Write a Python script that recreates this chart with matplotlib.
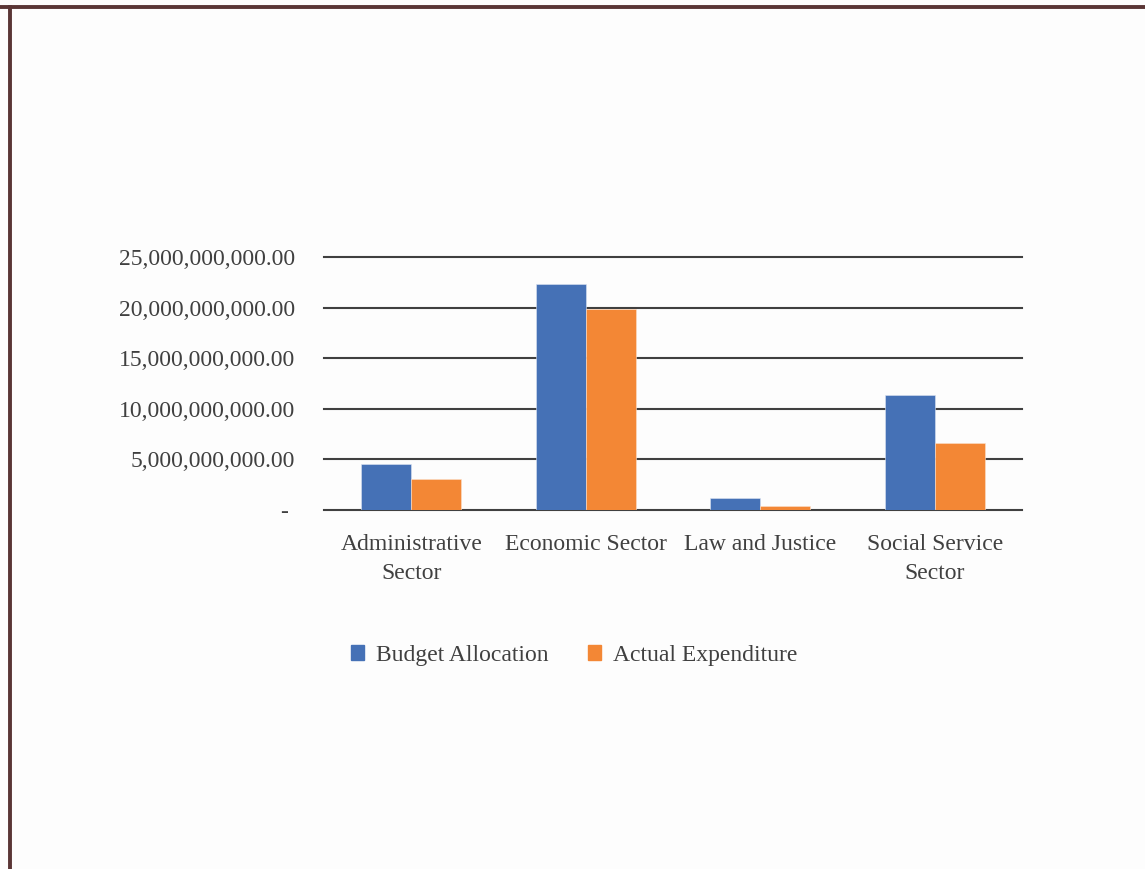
#!/usr/bin/env python3

"""
Clustered bar chart of budget allocation against actual expenditure by sector.
"""

import matplotlib.pyplot as plt
import numpy as np
from matplotlib.lines import Line2D
from matplotlib.patches import Patch
from matplotlib.ticker import FuncFormatter

sectors = [
    "Administrative\nSector",
    "Economic Sector",
    "Law and Justice",
    "Social Service\nSector",
]
budget_allocation = [4.55e9, 22.33e9, 1.19e9, 11.33e9]
actual_expenditure = [3.03e9, 19.89e9, 0.40e9, 6.65e9]
series_names = ["Budget Allocation", "Actual Expenditure"]
y_ticks = [0, 5e9, 10e9, 15e9, 20e9, 25e9]

BLUE = "#4571B6"
ORANGE = "#F38735"
TEXT = "#404040"
GRID = "#404040"
FRAME = "#5A3535"


def fmt_amount(value, _pos):
    if value == 0:
        return "- "
    return f"{value:,.2f}"


def main() -> None:
    plt.rcParams["font.family"] = ["Liberation Serif", "DejaVu Serif"]
    W, H = 1145, 869
    fig = plt.figure(figsize=(W / 100, H / 100), dpi=100, facecolor="#FDFDFD")

    # Frame drawn along the top and left edges of the page.
    fig.add_artist(Line2D([0, 1], [1 - 6.5 / H] * 2, color=FRAME, lw=2.8,
                          transform=fig.transFigure))
    fig.add_artist(Line2D([9.5 / W] * 2, [0, 1 - 6.5 / H], color=FRAME, lw=2.8,
                          transform=fig.transFigure))

    left, right, bottom, top = 324, 1022, 510, 257
    ax = fig.add_axes([left / W, 1 - bottom / H, (right - left) / W,
                       (bottom - top) / H])
    ax.set_facecolor("none")

    x = np.arange(len(sectors))
    width = 0.286
    ax.bar(x - width / 2, budget_allocation, width, color=BLUE,
           edgecolor="#DCE4F2", linewidth=0.4, zorder=3)
    ax.bar(x + width / 2, actual_expenditure, width, color=ORANGE,
           edgecolor="#FBE0CC", linewidth=0.4, zorder=3)

    for yv in y_ticks:
        ax.axhline(yv, color=GRID, lw=1.5, zorder=2, clip_on=False)

    ax.set_xlim(-0.5, len(sectors) - 0.5)
    ax.set_ylim(0, 25e9)
    ax.set_yticks(y_ticks)
    ax.yaxis.set_major_formatter(FuncFormatter(fmt_amount))
    ax.set_xticks(x)
    ax.set_xticklabels(sectors, linespacing=1.5)
    ax.tick_params(axis="y", length=0, pad=21, labelsize=17, labelcolor=TEXT)
    ax.tick_params(axis="x", length=0, pad=17, labelsize=17, labelcolor=TEXT)
    for spine in ax.spines.values():
        spine.set_visible(False)

    handles = [Patch(color=BLUE), Patch(color=ORANGE)]
    fig.legend(handles, series_names, loc="center",
               bbox_to_anchor=(574 / W, 1 - 655 / H), ncol=2, frameon=False,
               fontsize=17, labelcolor=TEXT, handlelength=0.58,
               handleheight=0.58, handletextpad=0.5, columnspacing=1.65)

    fig.savefig("out.png", dpi=100, facecolor=fig.get_facecolor())


if __name__ == "__main__":
    main()
